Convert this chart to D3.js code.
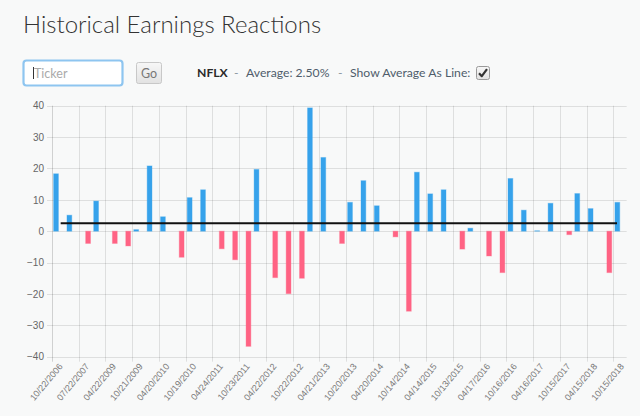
<!DOCTYPE html>
<html>
<head>
<meta charset="utf-8">
<script src="https://cdn.jsdelivr.net/npm/d3@7"></script>
<style>
  html, body { margin: 0; padding: 0; background: #f8f9f9; }
  svg { display: block; font-family: Lato, "Open Sans", sans-serif; }
</style>
</head>
<body>
<svg id="chart" width="640" height="416"></svg>
<script>
// ---- data ----
const titleText = "Historical Earnings Reactions";
const ticker = "NFLX";
const averageMove = 2.50;
const reportDates = [
  "10/22/2006","01/21/2007","07/22/2007","10/21/2007","04/22/2009","07/19/2009",
  "10/21/2009","01/24/2010","04/20/2010","07/20/2010","10/19/2010","01/23/2011",
  "04/24/2011","07/24/2011","10/23/2011","01/22/2012","04/22/2012","07/22/2012",
  "10/22/2012","01/20/2013","04/21/2013","07/21/2013","10/20/2013","01/19/2014",
  "04/20/2014","07/20/2014","10/14/2014","01/19/2015","04/14/2015","07/14/2015",
  "10/13/2015","01/18/2016","04/17/2016","07/17/2016","10/16/2016","01/15/2017",
  "04/16/2017","07/16/2017","10/15/2017","01/21/2018","04/15/2018","07/15/2018",
  "10/15/2018"
];
const reactions = [
  18.3, 5.1, -3.9, 9.6, -3.9, -4.7,
  0.5, 20.8, 4.6, -8.3, 10.7, 13.2,
  -5.6, -9.1, -36.7, 19.7, -14.8, -19.9,
  -15.0, 39.3, 23.5, -3.9, 9.2, 16.1,
  8.1, -1.8, -25.5, 18.8, 11.9, 13.2,
  -5.7, 0.95, -7.9, -13.2, 16.8, 6.7,
  0.15, 8.9, -1.1, 12.0, 7.2, -13.2,
  9.2
];
const yTicks = [-40, -30, -20, -10, 0, 10, 20, 30, 40];
const seriesKeys = ["up", "down"];
const seriesColors = { up: "#36a2eb", down: "#ff6384" };

// ---- layout ----
const svg = d3.select("#chart");
const plot = { left: 52, right: 626.7, top: 105.7, bottom: 356.7 };

// title
svg.append("text").attr("x", 23).attr("y", 33)
  .attr("font-size", 24).attr("font-weight", 300).attr("fill", "#333")
  .text(titleText);

// ticker input
const ctl = svg.append("g");
ctl.append("rect").attr("x", 23.5).attr("y", 60.5).attr("width", 99).attr("height", 25)
  .attr("rx", 3).attr("fill", "#fff").attr("stroke", "#8ec5f0").attr("stroke-width", 2.2);
ctl.append("line").attr("x1", 33.5).attr("x2", 33.5).attr("y1", 67).attr("y2", 79)
  .attr("stroke", "#333").attr("stroke-width", 1);
ctl.append("text").attr("x", 34).attr("y", 77.5).attr("font-size", 12.5)
  .attr("fill", "#aaa").text("Ticker");

// Go button
const grad = svg.append("defs").append("linearGradient").attr("id", "btn")
  .attr("x1", 0).attr("x2", 0).attr("y1", 0).attr("y2", 1);
grad.append("stop").attr("offset", 0).attr("stop-color", "#f7f7f7");
grad.append("stop").attr("offset", 1).attr("stop-color", "#e2e2e2");
ctl.append("rect").attr("x", 136.5).attr("y", 62.5).attr("width", 25).attr("height", 21)
  .attr("rx", 2).attr("fill", "url(#btn)").attr("stroke", "#c8c8c8");
ctl.append("text").attr("x", 149).attr("y", 77.5).attr("font-size", 12.5)
  .attr("text-anchor", "middle").attr("fill", "#777").text("Go");

// info text segments
const infoParts = [
  { t: ticker, x: 197, c: "#2a2a2a", w: 700 },
  { t: "-", x: 234, c: "#8a96a0", w: 400 },
  { t: "Average: " + averageMove.toFixed(2) + "%", x: 246, c: "#4f5d6b", w: 400 },
  { t: "-", x: 338, c: "#8a96a0", w: 400 },
  { t: "Show Average As Line:", x: 350, c: "#4f5d6b", w: 400 }
];
ctl.selectAll("text.info").data(infoParts).join("text").attr("class", "info")
  .attr("x", d => d.x).attr("y", 77).attr("font-size", 12.2)
  .attr("fill", d => d.c).attr("font-weight", d => d.w).text(d => d.t);

// checkbox
const cb = svg.append("g").attr("transform", "translate(476,66)");
cb.append("rect").attr("x", 0.5).attr("y", 0.5).attr("width", 13).attr("height", 13)
  .attr("rx", 2).attr("fill", "url(#btn)").attr("stroke", "#9a9a9a");
cb.append("path").attr("d", "M3,7.2 L5.8,10.2 L11,3.2").attr("fill", "none")
  .attr("stroke", "#333").attr("stroke-width", 2.2).attr("stroke-linejoin", "round");

// ---- scales ----
const x = d3.scaleBand().domain(reportDates).range([plot.left, plot.right]).padding(0);
const xs = d3.scaleBand().domain(seriesKeys).range([0, x.bandwidth()])
  .paddingInner(0.1).paddingOuter(0.3);
const y = d3.scaleLinear().domain([-40, 40]).range([plot.bottom, plot.top]);

// y grid + axis
const yAxis = svg.append("g").attr("transform", `translate(${plot.left},0)`)
  .call(d3.axisLeft(y).tickValues(yTicks).tickSize(0).tickPadding(8)
    .tickFormat(d3.format("d")));
yAxis.select(".domain").remove();
yAxis.selectAll("text").attr("font-size", 10).attr("fill", "#666")
  .attr("font-family", "'Liberation Sans', Arial, sans-serif");
svg.append("g").selectAll("line").data(yTicks).join("line")
  .attr("x1", plot.left - 5).attr("x2", plot.right)
  .attr("y1", d => Math.round(y(d)) + 0.5).attr("y2", d => Math.round(y(d)) + 0.5)
  .attr("stroke", "rgba(0,0,0,0.1)");

// x grid (every other category, on left edge of band)
const shownDates = reportDates.filter((d, i) => i % 2 === 0);
svg.append("g").selectAll("line").data(shownDates).join("line")
  .attr("x1", d => Math.round(x(d)) + 0.5).attr("x2", d => Math.round(x(d)) + 0.5)
  .attr("y1", plot.top).attr("y2", plot.bottom + 5)
  .attr("stroke", d => d === reportDates[0] ? "rgba(0,0,0,0.16)" : "rgba(0,0,0,0.1)");

// x axis labels
const xAxis = svg.append("g").attr("transform", `translate(0,${plot.bottom})`)
  .call(d3.axisBottom(x).tickValues(shownDates).tickSize(0).tickPadding(0));
xAxis.select(".domain").remove();
xAxis.selectAll("text")
  .attr("font-size", 9).attr("fill", "#777")
  .attr("font-family", "'Liberation Sans', Arial, sans-serif")
  .attr("text-anchor", "end")
  .attr("dy", "0.35em")
  .attr("transform", "translate(2,8) rotate(-50)");

// bars
const barData = reactions.map((v, i) => ({ date: reportDates[i], v, key: v >= 0 ? "up" : "down" }));
svg.append("g").selectAll("rect").data(barData).join("rect")
  .attr("x", d => x(d.date) + xs(d.key))
  .attr("width", xs.bandwidth())
  .attr("y", d => y(Math.max(0, d.v)))
  .attr("height", d => Math.abs(y(d.v) - y(0)))
  .attr("fill", d => seriesColors[d.key])
  .attr("stroke", d => d.key === "up" ? "rgba(54,162,235,0.35)" : "rgba(255,99,132,0.35)")
  .attr("stroke-width", 1);

// average line
const first = reportDates[0], last = reportDates[reportDates.length - 1];
svg.append("line")
  .attr("x1", x(first) + x.bandwidth() / 2 + 2)
  .attr("x2", x(last) + x.bandwidth() / 2 - 3)
  .attr("y1", y(averageMove)).attr("y2", y(averageMove))
  .attr("stroke", "#111").attr("stroke-width", 2);
</script>
</body>
</html>
